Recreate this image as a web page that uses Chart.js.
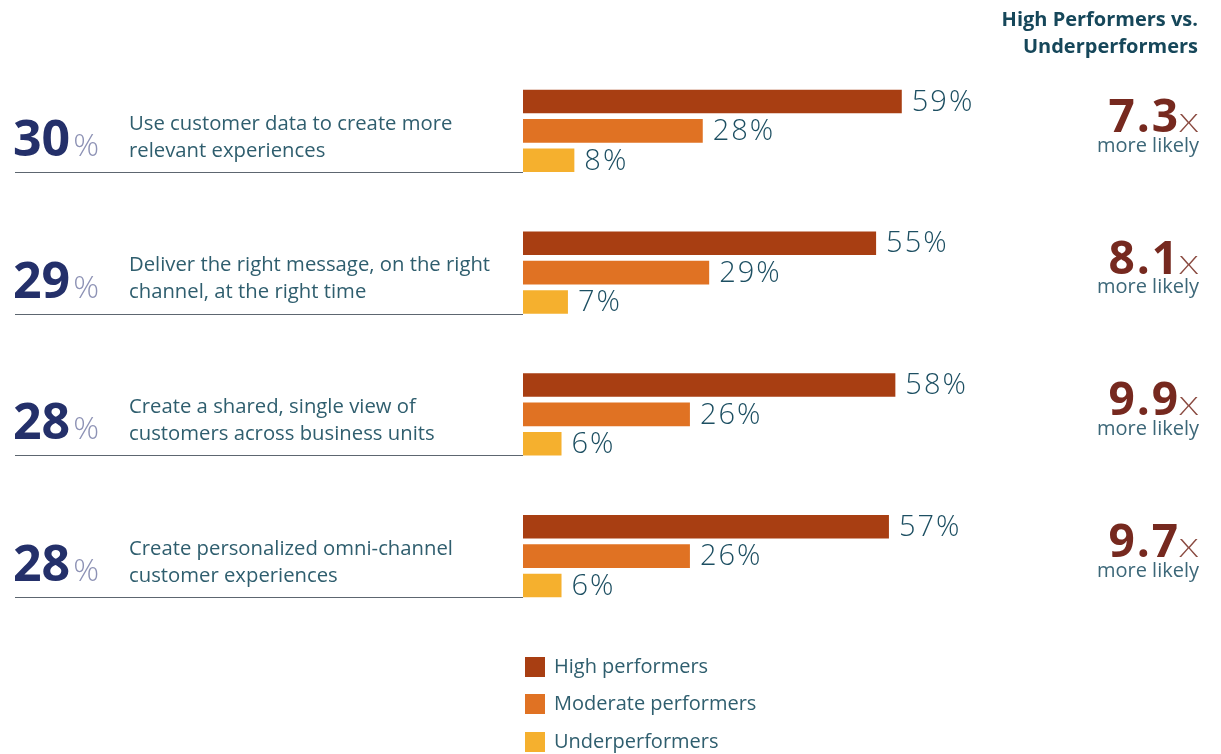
<!DOCTYPE html>
<html>
<head>
<meta charset="utf-8">
<script src="https://cdn.jsdelivr.net/npm/chart.js@4/dist/chart.umd.min.js"></script>
<style>
html,body{margin:0;padding:0;background:#fff;}
#wrap{width:1221px;height:754px;position:relative;}
</style>
</head>
<body>
<div id="wrap"><canvas id="c"></canvas></div>
<script>
const categories = [
  ["Use customer data to create more", "relevant experiences"],
  ["Deliver the right message, on the right", "channel, at the right time"],
  ["Create a shared, single view of", "customers across business units"],
  ["Create personalized omni-channel", "customer experiences"]
];
const overallShare = [30, 29, 28, 28];
const highPerformers = [59, 55, 58, 57];
const moderatePerformers = [28, 29, 26, 26];
const underperformers = [8, 7, 6, 6];
const likelihood = ["7.3", "8.1", "9.9", "9.7"];
const seriesNames = ["High performers", "Moderate performers", "Underperformers"];
const seriesColors = ["#A83E12", "#E07223", "#F5B02E"];
const headerLines = ["High Performers vs.", "Underperformers"];

const FONT = '"Open Sans", "DejaVu Sans", sans-serif';

const decor = {
  id: 'decor',
  afterDatasetsDraw(chart) {
    const ctx = chart.ctx;
    const ys = chart.scales.y;
    const area = chart.chartArea;
    ctx.save();
    // header
    ctx.fillStyle = '#16475a';
    ctx.font = 'bold 20px ' + FONT;
    ctx.textAlign = 'right';
    ctx.textBaseline = 'middle';
    ctx.fillText(headerLines[0], 1198, 20);
    ctx.fillText(headerLines[1], 1198, 47);

    // value labels
    chart.data.datasets.forEach((ds, di) => {
      const meta = chart.getDatasetMeta(di);
      meta.data.forEach((bar, i) => {
        ctx.fillStyle = '#1d4f62';
        ctx.font = '300 29px ' + FONT;
        ctx.letterSpacing = '2px';
        ctx.textAlign = 'left';
        ctx.textBaseline = 'middle';
        ctx.fillText(ds.data[i] + '%', bar.x + 10, bar.y + 1);
        ctx.letterSpacing = '0px';
      });
    });

    categories.forEach((lines, i) => {
      const cy = ys.getPixelForValue(i);
      // separator
      const ly = Math.round(cy + 41) + 0.5;
      ctx.strokeStyle = '#5d6670';
      ctx.lineWidth = 1;
      ctx.beginPath();
      ctx.moveTo(15, ly);
      ctx.lineTo(area.left, ly);
      ctx.stroke();
      // big number
      ctx.textAlign = 'left';
      ctx.textBaseline = 'alphabetic';
      ctx.fillStyle = '#24306a';
      ctx.font = 'bold 50px ' + FONT;
      const num = String(overallShare[i]);
      ctx.fillText(num, 13, cy + 25);
      const w = ctx.measureText(num).width;
      ctx.fillStyle = '#8d92b5';
      ctx.font = '300 32px ' + FONT;
      ctx.fillText('%', 13 + w + 3, cy + 25);
      // label
      ctx.fillStyle = '#2f5e6e';
      ctx.font = '20.3px ' + FONT;
      ctx.textBaseline = 'middle';
      ctx.fillText(lines[0], 129, cy - 7);
      ctx.fillText(lines[1], 129, cy + 20);
      // multiplier "X" (thin, wide)
      ctx.textBaseline = 'alphabetic';
      ctx.fillStyle = '#8a4a40';
      ctx.font = '300 26px ' + FONT;
      ctx.textAlign = 'left';
      const xwRaw = ctx.measureText('X').width;
      const sx = 1.35;
      ctx.save();
      ctx.translate(1198 - xwRaw * sx, cy + 1);
      ctx.scale(sx, 1);
      ctx.fillText('X', 0, 0);
      ctx.restore();
      ctx.textAlign = 'right';
      ctx.fillStyle = '#76291f';
      ctx.font = 'bold 46px ' + FONT;
      ctx.letterSpacing = '2px';
      ctx.fillText(likelihood[i], 1198 - xwRaw * sx + 1, cy + 1);
      ctx.letterSpacing = '0px';
      ctx.fillStyle = '#3c6778';
      ctx.font = '20px ' + FONT;
      ctx.textBaseline = 'middle';
      ctx.fillText('more likely', 1199, cy + 15);
    });

    // legend
    const legY = [667, 704, 742];
    seriesNames.forEach((n, i) => {
      ctx.fillStyle = seriesColors[i];
      ctx.fillRect(525, legY[i] - 10, 20, 20);
      ctx.fillStyle = '#2f5e6e';
      ctx.font = '20px ' + FONT;
      ctx.textAlign = 'left';
      ctx.textBaseline = 'middle';
      ctx.fillText(n, 554, legY[i]);
    });
    ctx.restore();
  }
};

new Chart(document.getElementById('c'), {
  type: 'bar',
  data: {
    labels: categories.map(l => l.join(' ')),
    datasets: [
      { label: seriesNames[0], data: highPerformers, backgroundColor: seriesColors[0] },
      { label: seriesNames[1], data: moderatePerformers, backgroundColor: seriesColors[1] },
      { label: seriesNames[2], data: underperformers, backgroundColor: seriesColors[2] }
    ]
  },
  options: {
    indexAxis: 'y',
    responsive: true,
    maintainAspectRatio: false,
    animation: false,
    categoryPercentage: 0.623,
    barPercentage: 0.8,
    layout: { padding: { left: 523, right: 56, top: 60, bottom: 127 } },
    scales: {
      x: { display: false, min: 0, max: 100 },
      y: { display: false }
    },
    plugins: { legend: { display: false }, tooltip: { enabled: false } }
  },
  plugins: [decor]
});
</script>
</body>
</html>
